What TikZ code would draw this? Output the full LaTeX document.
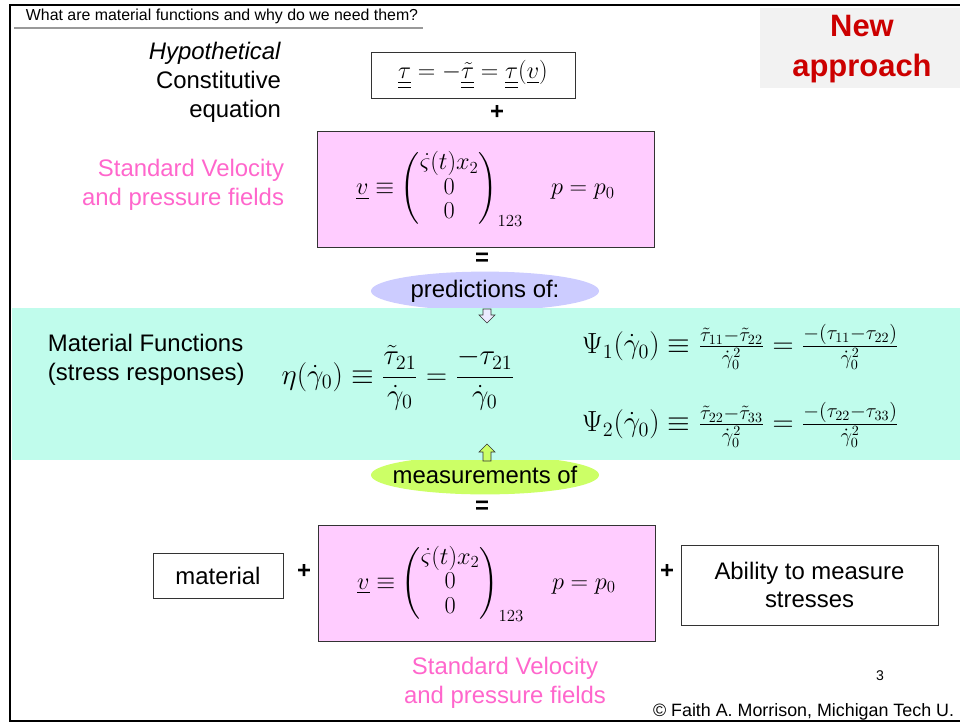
\documentclass[tikz,border=0pt]{standalone}
\usepackage{amsmath}
\usepackage{amssymb}
\usepackage{fontspec}
\setmainfont{Liberation Sans}
\usepackage{tikz}
\usetikzlibrary{shapes.geometric}

\definecolor{pinkbox}{RGB}{255,204,255}
\definecolor{pinktext}{RGB}{255,102,204}
\definecolor{predfill}{RGB}{204,204,255}
\definecolor{measfill}{RGB}{204,255,102}
\definecolor{bandfill}{RGB}{192,252,236}
\definecolor{newred}{RGB}{204,0,0}
\definecolor{newgray}{RGB}{242,242,242}

\newcommand{\utens}[1]{\underline{\underline{#1}}}
\newcommand{\uvec}[1]{\underline{#1}}
\newcommand{\bigtxt}{\fontsize{17}{20.5}\selectfont}
\newcommand{\mathtxt}{\fontsize{20.5}{24}\selectfont}
\newcommand{\fieldeq}{\renewcommand{\arraystretch}{0.85}%
  $\uvec{v} \equiv \begin{pmatrix} \dot{\varsigma}(t)x_2 \\ 0 \\ 0 \end{pmatrix}_{123}
  \quad p = p_0$}

\tikzset{
  fieldbox/.style={draw=black!80, fill=pinkbox, minimum width=8.43cm, minimum height=2.9cm},
  plainbox/.style={draw=black!80, font=\bigtxt, align=center},
  oval/.style={ellipse, inner sep=0pt, minimum width=5.7cm, minimum height=0.97cm},
  sign/.style={font=\bfseries\bigtxt}
}

\begin{document}
\begin{tikzpicture}[x=0.025cm, y=-0.025cm]
  \useasboundingbox (0,0) rectangle (960,725);
  % rahmen
  \draw[line width=1.8pt] (962,5) -- (10,5) -- (10,721) -- (962,721);
  % titel
  \node[anchor=west, font=\fontsize{11.3}{13}\selectfont] (title) at (21,16)
    {What are material functions and why do we need them?};
  \draw[black!40, line width=1.2pt] (14,28) -- (423,28);
  \node[fill=newgray, minimum width=5cm, minimum height=2cm] (newbox) at (860,48) {};
  \node[align=center, text=newred, font=\bfseries\fontsize{22}{29}\selectfont]
    (new) at (862,49) {New\\approach};
  % gleichung oben
  \node[anchor=east, align=right, font=\bigtxt] (hyp) at (286,82)
    {\textit{Hypothetical}\\Constitutive\\equation};
  \node[plainbox, minimum width=5.1cm, minimum height=1.15cm] (cons) at (473,75)
    {\fontsize{18.5}{22}\selectfont$\utens{\tau} = -\utens{\tilde{\tau}} = \utens{\tau}(\uvec{v})$};
  \node[sign] (plusa) at (497,112) {+};
  \node[fieldbox] (fielda) at (485.5,189) {};
  \node[font=\bigtxt] at (fielda) {\fieldeq};
  \node[anchor=east, align=right, text=pinktext, font=\bigtxt] (stda) at (289,185)
    {Standard Velocity\\and pressure fields};
  \node[sign] (eqa) at (482,259) {=};
  % ellipsen
  \node[oval, fill=predfill] (pred) at (485,291) {};
  \node[font=\bigtxt] at (pred) {predictions of:};
  \node[oval, fill=measfill] (meas) at (485,475) {};
  \node[font=\bigtxt] at (meas) {measurements of};
  % band
  \fill[bandfill] (12,308) rectangle (962,460);
  \draw[black!80, fill=white!60!predfill] (483,309) -- (491,309) -- (491,315) -- (495,315)
    -- (487,323) -- (479,315) -- (483,315) -- cycle;
  \draw[black!80, fill=measfill] (483,461) -- (491,461) -- (491,452) -- (495,452)
    -- (487,444) -- (479,452) -- (483,452) -- cycle;
  \node[anchor=west, align=left, font=\bigtxt] (matfun) at (43,360)
    {Material Functions\\(stress responses)};
  \node[font=\mathtxt] (eta) at (398,378)
    {$\eta(\dot{\gamma}_0) \equiv \dfrac{\tilde{\tau}_{21}}{\dot{\gamma}_0}
      = \dfrac{-\tau_{21}}{\dot{\gamma}_0}$};
  \node[anchor=west, font=\mathtxt] (psia) at (577,347)
    {$\Psi_1(\dot{\gamma}_0) \equiv \frac{\tilde{\tau}_{11}-\tilde{\tau}_{22}}{\dot{\gamma}_0^2}
      = \frac{-(\tau_{11}-\tau_{22})}{\dot{\gamma}_0^2}$};
  \node[anchor=west, font=\mathtxt] (psib) at (577,425)
    {$\Psi_2(\dot{\gamma}_0) \equiv \frac{\tilde{\tau}_{22}-\tilde{\tau}_{33}}{\dot{\gamma}_0^2}
      = \frac{-(\tau_{22}-\tau_{33})}{\dot{\gamma}_0^2}$};
  % unten
  \node[sign] (eqb) at (482,507) {=};
  \node[plainbox, minimum width=3.25cm, minimum height=1.13cm] (mat) at (218,575.5) {material};
  \node[sign] (plusb) at (304,571) {+};
  \node[fieldbox] (fieldb) at (486.5,583.5) {};
  \node[font=\bigtxt] at (fieldb) {\fieldeq};
  \node[sign] (plusc) at (667,571) {+};
  \node[plainbox, minimum width=6.43cm, minimum height=2cm] (abil) at (809.5,585)
    {Ability to measure\\stresses};
  \node[align=center, text=pinktext, font=\bigtxt] (stdb) at (505,683)
    {Standard Velocity\\and pressure fields};
  \node[font=\fontsize{10}{12}\selectfont] (page) at (880,676) {3};
  \node[anchor=east, font=\fontsize{12.7}{14}\selectfont] (copy) at (959,712)
    {\textcopyright{} Faith A. Morrison, Michigan Tech U.};
\end{tikzpicture}
\end{document}
